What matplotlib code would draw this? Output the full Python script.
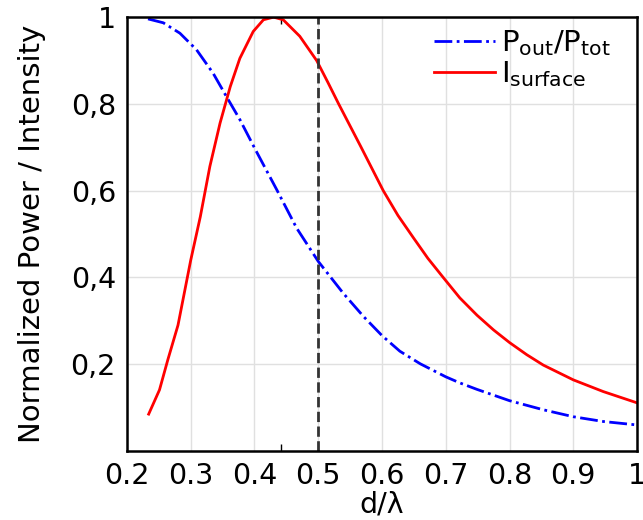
import numpy as np
import matplotlib.pyplot as plt
from matplotlib.ticker import FixedLocator

# data
d_red = [0.234, 0.251, 0.264, 0.28, 0.30, 0.315, 0.33, 0.346, 0.362, 0.377,
         0.398, 0.414, 0.43, 0.445, 0.471, 0.4975, 0.515, 0.532, 0.5666, 0.602,
         0.625, 0.649, 0.672, 0.696, 0.722, 0.749, 0.775, 0.80, 0.827, 0.853,
         0.90, 0.947, 1.0]
i_surface = [0.085, 0.141, 0.21, 0.29, 0.44, 0.54, 0.656, 0.756, 0.84, 0.905,
             0.967, 0.994, 1.0, 0.994, 0.956, 0.900, 0.85, 0.8, 0.702, 0.6,
             0.543, 0.492, 0.444, 0.4, 0.353, 0.313, 0.279, 0.25, 0.222, 0.198,
             0.164, 0.137, 0.111]

d_blue = [0.233, 0.257, 0.283, 0.309, 0.335, 0.356, 0.377, 0.402, 0.435, 0.466,
          0.5, 0.539, 0.571, 0.6, 0.628, 0.66, 0.70, 0.722, 0.749, 0.80,
          0.853, 0.90, 0.947, 1.0]
p_ratio = [0.996, 0.987, 0.963, 0.925, 0.871, 0.817, 0.764, 0.693, 0.602, 0.514,
           0.437, 0.364, 0.31, 0.266, 0.23, 0.201, 0.171, 0.157, 0.142, 0.116,
           0.095, 0.079, 0.068, 0.06]

x_ticks = [0.2, 0.3, 0.4, 0.5, 0.6, 0.7, 0.8, 0.9, 1.0]
x_labels = ['0.2', '0.3', '0.4', '0.5', '0.6', '0.7', '0.8', '0.9', '1']
y_ticks = [0.2, 0.4, 0.6, 0.8, 1.0]
y_labels = ['0,2', '0,4', '0,6', '0,8', '1']
d_mark = 0.5
peak_tick = 0.442

plt.rcParams['font.family'] = 'DejaVu Sans'
plt.rcParams['mathtext.default'] = 'regular'

fig = plt.figure(figsize=(6.43, 5.2), dpi=100)
ax = fig.add_axes([0.1975, 0.1327, 0.7932, 0.8343])

ax.plot(d_blue, p_ratio, color='blue', lw=2, linestyle='-.',
        label='$P_{out}/P_{tot}$')
ax.plot(d_red, i_surface, color='red', lw=2, label='$I_{surface}$')
ax.axvline(d_mark, color='#333333', lw=2, linestyle='--')

ax.set_xlim(0.2, 1.0)
ax.set_ylim(0, 1.0)
ax.set_xticks(x_ticks)
ax.set_xticklabels(x_labels)
ax.set_yticks(y_ticks)
ax.set_yticklabels(y_labels)
ax.tick_params(axis='both', which='major', length=0, labelsize=20.5, pad=8)
ax.xaxis.set_minor_locator(FixedLocator([peak_tick]))
ax.tick_params(axis='x', which='minor', direction='in', length=5, width=1,
               top=True, bottom=True)

ax.grid(True, color='#e0e0e0', lw=1)
ax.set_axisbelow(True)
for s in ax.spines.values():
    s.set_linewidth(1.8)

ax.set_xlabel('d/λ', fontsize=20.5, labelpad=0)
ax.set_ylabel('Normalized Power / Intensity', fontsize=21, labelpad=18)

ax.legend(loc='upper right', bbox_to_anchor=(1.0, 1.035), frameon=False,
          fontsize=21, handlelength=2.1, handletextpad=0.2,
          labelspacing=0.05, borderaxespad=0.5)

plt.savefig('out.png', dpi=100)
